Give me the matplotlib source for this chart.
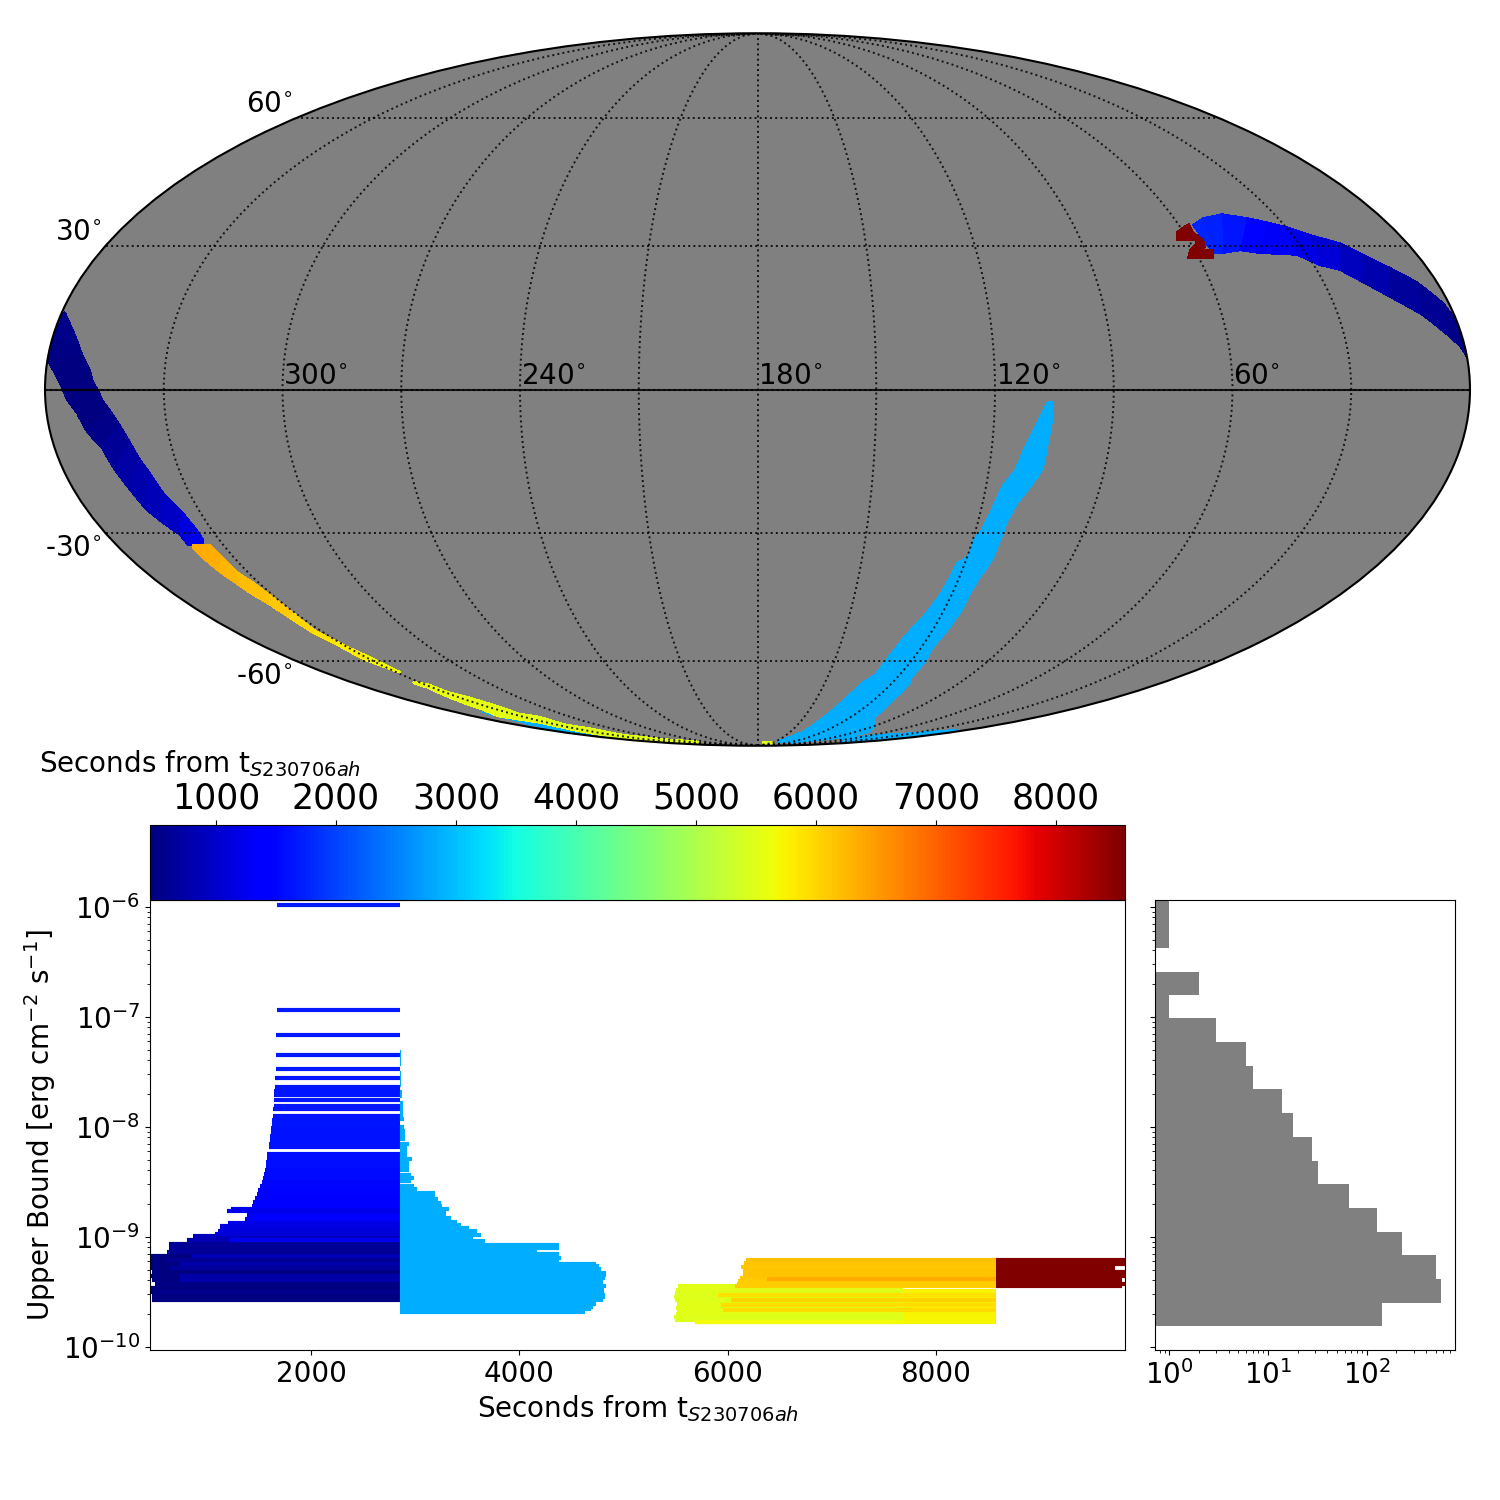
import numpy as np
import matplotlib
matplotlib.use('Agg')
import matplotlib.pyplot as plt
from matplotlib.colors import Normalize
from matplotlib.cm import ScalarMappable

# ---------- sky strips: upper-edge RA/Dec, lower-edge RA/Dec, start time ----------
rarc_ra_u = [56.0, 51.6, 45.2, 38.9, 34.2, 29.1, 25.1, 18.6, 14.8, 10.0, 5.3, 1.5, 0.0, -0.1]
rarc_dec_u = [34.5, 36.0, 36.9, 36.0, 35.1, 33.8, 32.3, 30.5, 28.0, 25.2, 22.2, 17.8, 13.9, 7.1]
rarc_ra_l = [55.8, 54.9, 52.7, 47.5, 42.6, 32.8, 28.3, 23.8, 19.6, 14.5, 8.1, 3.1, 1.2, 0.0]
rarc_dec_l = [30.1, 28.4, 28.4, 29.0, 28.4, 28.0, 25.8, 24.8, 22.2, 19.1, 15.3, 10.8, 8.9, 6.7]
rarc_t = [1800, 1750, 1700, 1550, 1400, 1250, 1130, 986, 850, 711, 620, 540, 490, 450]

larc_ra_u = [359.2, 355.4, 353.2, 351.1, 348.9, 347.9, 346.6, 345.7, 343.9, 341.9, 340.3, 339.1, 337.9, 336.9, 334.7, 334.1, 334.5]
larc_dec_u = [15.9, 12.2, 9.7, 6.7, 4.0, 1.5, -0.1, -2.1, -4.2, -7.3, -10.8, -14.5, -17.2, -21.4, -25.6, -29.2, -31.4]
larc_ra_l = [359.2, 360.2, 360.0, 359.9, 357.1, 355.7, 354.5, 352.3, 350.6, 347.9, 346.6, 345.2, 343.9, 342.0, 339.8, 339.9, 335.7]
larc_dec_l = [15.9, 14.3, 10.1, 6.0, 2.6, 0.3, -2.1, -4.8, -8.7, -12.0, -16.6, -20.7, -25.0, -27.7, -30.3, -32.5, -32.5]
larc_t = [520, 520, 520, 480, 470, 450, 450, 460, 500, 580, 680, 740, 800, 880, 1030, 1250, 1300]

orng_ra_u = [338.5, 333.7, 333.2, 333.1, 331.7, 330.7, 330.6, 331.8, 330.5, 328.5, 328.1]
orng_dec_u = [-32.5, -32.5, -35.4, -38.5, -40.7, -43.7, -47.9, -52.5, -55.0, -58.6, -62.9]
orng_ra_l = [339.2, 338.9, 338.1, 336.5, 336.2, 334.6, 333.9, 333.7, 332.3, 332.2, 329.0]
orng_dec_l = [-33.2, -35.8, -38.5, -42.1, -43.2, -46.0, -49.1, -52.8, -55.8, -59.7, -63.2]
orng_t = [6380, 6380, 6300, 6250, 6200, 6150, 6050, 5950, 5850, 5750, 5650]

yell_ra_u = [332.2, 327.9, 328.2, 325.0, 323.5, 323.0, 324.9, 319.1, 322.3, 316.2, 317.8, 304.9, 277.2]
yell_dec_u = [-65.7, -66.5, -68.6, -70.1, -71.9, -73.2, -75.5, -76.5, -79.4, -81.0, -83.5, -85.3, -86.9]
yell_ra_l = [333.5, 332.3, 334.2, 336.3, 338.4, 344.7, 340.0, 335.5, 337.7, 341.5, 341.3, 327.6, 302.9]
yell_dec_l = [-66.2, -67.4, -69.5, -71.9, -74.2, -76.5, -77.6, -78.7, -81.0, -83.0, -84.9, -86.4, -87.8]
yell_t = [5640, 5620, 5600, 5590, 5570, 5560, 5540, 5520, 5510, 5500, 5500, 5500, 5500]

ytip_ra_u = [170.7, 153.8]
ytip_dec_u = [-86.9, -86.9]
ytip_ra_l = [166.9, 143.0]
ytip_dec_l = [-88.2, -88.2]
ytip_t = [5500, 5500]

lbth_ra_u = [338.4, 331.9, 331.1, 328.7, 332.9]
lbth_dec_u = [-74.2, -76.5, -79.8, -82.6, -84.9]
lbth_ra_l = [342.7, 346.3, 353.8, 349.2, 356.3]
lbth_dec_l = [-74.8, -78.3, -81.8, -83.9, -85.9]
lbth_t = [2850, 2850, 2850, 2850, 2850]

lbar_ra_u = [106.6, 109.1, 111.5, 113.2, 115.8, 117.0, 118.3, 119.6, 119.8, 122.3, 123.0, 123.8, 125.7, 127.3, 128.7, 129.9, 130.4, 133.5, 135.6, 137.4, 138.6, 147.0]
lbar_dec_u = [-2.6, -6.9, -11.8, -16.6, -20.1, -24.3, -29.2, -31.0, -35.1, -36.5, -41.0, -44.4, -48.9, -51.3, -54.5, -59.1, -63.7, -66.0, -71.6, -76.9, -82.2, -86.9]
lbar_ra_l = [105.6, 105.3, 105.8, 106.1, 107.1, 110.8, 112.1, 112.4, 112.5, 113.9, 114.5, 114.3, 115.1, 115.9, 114.8, 114.0, 112.1, 110.3, 104.9, 76.6, 81.1, 110.7]
lbar_dec_l = [-2.6, -6.2, -10.8, -16.1, -18.2, -23.5, -27.5, -31.4, -35.8, -39.6, -42.6, -47.2, -52.8, -56.3, -58.9, -64.3, -66.0, -71.0, -76.9, -82.6, -84.9, -87.5]
lbar_t = [2850] * 22

lbrm_ra_u = [74.3, 54.4, 26.6, 9.9]
lbrm_dec_u = [-85.3, -83.5, -82.6, -81.4]
lbrm_ra_l = [19.0, 10.6, -3.9, -8.4]
lbrm_dec_l = [-87.5, -85.9, -84.4, -82.6]
lbrm_t = [2850, 2850, 2850, 2850]

red_ra = [61.9, 59.7, 56.9, 57.4, 56.0, 56.7, 58.5, 55.0, 56.2, 63.0, 61.3, 59.1, 57.7, 63.3]
red_dec = [32.9, 33.8, 34.7, 32.9, 31.2, 29.7, 29.0, 29.0, 27.3, 27.3, 29.0, 30.1, 31.2, 31.2]
red_t = 8575

# ---------- upper bounds: log10(bound), start and stop of each observation ----------
stop_blue = 2850
blue_log_ub = [-5.985, -6.943, -7.170, -7.351, -7.478, -7.560, -7.642, -7.678, -7.714, -7.760, -7.814, -7.841,
               -7.905, -7.941, -7.977, -8.014, -8.050, -8.086, -8.122, -8.159, -8.186, -8.249, -8.286, -8.322,
               -8.358, -8.394, -8.431, -8.467, -8.503, -8.540, -8.576, -8.612, -8.648, -8.685, -8.721, -8.748,
               -8.766, -8.803, -8.839, -8.875, -8.902, -8.921, -8.948, -8.975, -8.993, -9.029, -9.029, -9.066,
               -9.102, -9.138, -9.175, -9.175, -9.211, -9.211, -9.247, -9.247, -9.283, -9.283, -9.320, -9.356,
               -9.356, -9.392, -9.392, -9.428, -9.465, -9.501, -9.501, -9.537, -9.574]
blue_start = [1673, 1673, 1664, 1664, 1664, 1654, 1654, 1644, 1644, 1644, 1644, 1635,
              1635, 1625, 1625, 1616, 1616, 1606, 1606, 1596, 1596, 1577, 1577, 1568,
              1568, 1558, 1548, 1539, 1529, 1510, 1491, 1481, 1462, 1443, 1433, 1232,
              1193, 1385, 1366, 1203, 1126, 1126, 1107, 1078, 867, 809, 1222, 636,
              636, 617, 454, 857, 454, 608, 454, 742, 452, 646, 473, 454,
              742, 473, 742, 500, 454, 454, 550, 473, 473]

lb_start = 2850
lb_log_ub = [-7.324, -7.361, -7.397, -7.433, -7.515, -7.551, -7.587, -7.624, -7.687, -7.723, -7.787, -7.823,
             -7.859, -7.896, -7.932, -8.004, -8.041, -8.077, -8.113, -8.159, -8.195, -8.231, -8.268, -8.295,
             -8.331, -8.367, -8.394, -8.440, -8.467, -8.494, -8.540, -8.567, -8.603, -8.621, -8.657, -8.694,
             -8.721, -8.748, -8.784, -8.812, -8.830, -8.866, -8.893, -8.921, -8.948, -8.984, -9.011, -9.038,
             -9.075, -9.102, -9.129, -9.156, -9.193, -9.220, -9.247, -9.265, -9.292, -9.329, -9.352, -9.374,
             -9.410, -9.428, -9.447, -9.470, -9.492, -9.510, -9.528, -9.551, -9.574, -9.610, -9.637, -9.655, -9.682]
lb_stop = [2864, 2864, 2864, 2864, 2864, 2864, 2864, 2864, 2873, 2873, 2883, 2883,
           2883, 2883, 2892, 2892, 2902, 2902, 2902, 2940, 2921, 2921, 2921, 2969,
           2940, 2940, 2940, 2959, 2988, 2959, 2988, 3017, 3190, 3190, 3219, 3248,
           3257, 3324, 3296, 3296, 3344, 3401, 3440, 3516, 3593, 3632, 3555, 3670,
           4380, 4380, 4169, 4380, 4400, 4380, 4736, 4764, 4784, 4832, 4832, 4822,
           4803, 4803, 4832, 4812, 4812, 4812, 4822, 4822, 4803, 4736, 4707, 4688, 4630]

late_log_ub = [-9.492, -9.528, -9.564, -9.601, -9.637, -9.673, -9.710, -9.746, -9.773]
late_start = [5720, 5720, 5720, 5720, 5720, 5720, 5720, 5720, 5720]
late_stop = [8575, 8575, 8575, 8575, 8575, 8575, 8575, 8575, 8575]

yel_log_ub = [-9.447, -9.483, -9.510, -9.546, -9.574, -9.610, -9.646, -9.673, -9.701, -9.728, -9.755, -9.773]
yel_start = [5523, 5504, 5494, 5484, 5494, 5513, 5504, 5513, 5504, 5484, 5494, 5686]
yel_stop = [6200, 7680, 7680, 7680, 7680, 7680, 7680, 7680, 7680, 7680, 7680, 7680]

gold_log_ub = [-9.528, -9.574, -9.619, -9.664]
gold_start = [5907, 6032, 5936, 5955]
gold_stop = [8575, 8575, 8575, 8575]

org_log_ub = [-9.211, -9.238, -9.274, -9.311, -9.347, -9.374, -9.401, -9.383, -9.428, -9.447]
org_start = [6176, 6156, 6128, 6147, 6147, 6118, 6099, 6377, 6089, 6070]
org_stop = [8575] * 10

red_log_ub = [-9.211, -9.247, -9.283, -9.320, -9.356, -9.392, -9.428, -9.447]
red_stop = [9900, 9830, 9718, 9900, 9860, 9790, 9830, 9785]

# ---------- histogram of the upper bounds ----------
hist_edges = [-9.809, -9.601, -9.383, -9.165, -8.957, -8.739, -8.521, -8.313, -8.095, -7.877,
              -7.660, -7.451, -7.234, -7.016, -6.807, -6.590, -6.372, -6.154, -5.937]
hist_counts = [143, 565, 504, 228, 127, 66, 32, 28, 18, 14, 7, 6, 3, 1, 2, 0, 1, 1]

# ---------- labels ----------
ra_labels = [300, 240, 180, 120, 60]
cbar_ticks = [1000, 2000, 3000, 4000, 5000, 6000, 7000, 8000]
time_ticks = [2000, 4000, 6000, 8000]
bound_ticks = [1e-10, 1e-9, 1e-8, 1e-7, 1e-6]
count_ticks = [1, 10, 100]
t_min, t_max = 450, 8575

cmap = plt.get_cmap('jet')
norm = Normalize(t_min, t_max)
W, H = 1500.0, 1500.0


def box(x0, y0, x1, y1):
    return [x0 / W, 1 - y1 / H, (x1 - x0) / W, (y1 - y0) / H]


def lon(ra):
    return np.radians(180.0 - np.asarray(ra, float))


def strip(ax, ra_u, dec_u, ra_l, dec_l, t, z=2):
    for i in range(len(t) - 1):
        xs = lon([ra_u[i], ra_u[i + 1], ra_l[i + 1], ra_l[i]])
        ys = np.radians([dec_u[i], dec_u[i + 1], dec_l[i + 1], dec_l[i]])
        c = cmap(norm(0.5 * (t[i] + t[i + 1])))
        ax.fill(xs, ys, facecolor=c, edgecolor=c, linewidth=0.6, zorder=z, antialiased=False)


fig = plt.figure(figsize=(15, 15), dpi=100)

# ---------- sky map ----------
sky = fig.add_axes(box(45, 33, 1470, 746), projection='mollweide')
sky.set_facecolor('#808080')
strip(sky, rarc_ra_u, rarc_dec_u, rarc_ra_l, rarc_dec_l, rarc_t)
strip(sky, larc_ra_u, larc_dec_u, larc_ra_l, larc_dec_l, larc_t)
strip(sky, lbth_ra_u, lbth_dec_u, lbth_ra_l, lbth_dec_l, lbth_t)
strip(sky, lbar_ra_u, lbar_dec_u, lbar_ra_l, lbar_dec_l, lbar_t)
strip(sky, lbrm_ra_u, lbrm_dec_u, lbrm_ra_l, lbrm_dec_l, lbrm_t)
strip(sky, orng_ra_u, orng_dec_u, orng_ra_l, orng_dec_l, orng_t)
strip(sky, yell_ra_u, yell_dec_u, yell_ra_l, yell_dec_l, yell_t)
strip(sky, ytip_ra_u, ytip_dec_u, ytip_ra_l, ytip_dec_l, ytip_t)
sky.fill(lon(red_ra), np.radians(red_dec), facecolor=cmap(norm(red_t)),
         edgecolor=cmap(norm(red_t)), linewidth=0.6, zorder=3, antialiased=False)

sky.set_longitude_grid(30)
sky.set_longitude_grid_ends(90)
sky.set_latitude_grid(30)
sky.set_xticklabels([])
sky.set_yticklabels([])
sky.set_axisbelow(False)
sky.grid(True, color='black', linestyle=':', linewidth=1.4, alpha=0.85)
sky.plot(np.radians([-179.9, 179.9]), [0, 0], color='black', lw=1.5, alpha=0.85, zorder=4)
for sp in sky.spines.values():
    sp.set_linewidth(1.5)
for ra in ra_labels:
    sky.annotate(f'{ra}$^{{\\circ}}$', (lon(ra), 0), xytext=(0.7, -0.6), textcoords='offset points',
                 ha='left', va='bottom', fontsize=20, color='black', zorder=5, annotation_clip=False)
for d, xr, yc in [(60, 293, 104), (30, 102, 232), (-30, 102, 548), (-60, 293, 676)]:
    fig.text(xr / W, 1 - yc / H, f'{d}$^{{\\circ}}$', ha='right', va='center', fontsize=20)

# ---------- upper bound vs time ----------
ax = fig.add_axes(box(150, 900, 1125, 1350))
ax.set_yscale('log')


def rows(log_ub, start, stop, z):
    start = np.asarray(start, float)
    ax.hlines(10.0 ** np.asarray(log_ub, float), start, stop, colors=cmap(norm(start)),
              linewidth=3, capstyle='butt', zorder=z)


order = np.argsort(blue_start, kind='stable')
for i in order:
    rows([blue_log_ub[i]], [blue_start[i]], stop_blue, 2)
rows(lb_log_ub, [lb_start] * len(lb_log_ub), lb_stop, 2.1)
rows(late_log_ub, late_start, late_stop, 2.2)
rows(yel_log_ub, yel_start, yel_stop, 2.3)
rows(gold_log_ub, gold_start, gold_stop, 2.4)
for i in np.argsort(org_start, kind='stable'):
    rows([org_log_ub[i]], [org_start[i]], org_stop[i], 2.5)
rows(red_log_ub, [t_max] * len(red_log_ub), red_stop, 2.6)

ax.set_xlim(454, 9815)
ax.set_ylim(10 ** -10.03, 10 ** -5.939)
ax.set_xticks(time_ticks)
ax.set_yticks(bound_ticks)
ax.tick_params(axis='both', which='major', labelsize=20)
ax.set_xlabel('Seconds from t$_{S230706ah}$', fontsize=20)
ax.set_ylabel('Upper Bound [erg cm$^{-2}$ s$^{-1}$]', fontsize=20)

# ---------- colour bar ----------
cax = fig.add_axes(box(150, 825, 1125, 900))
cb = fig.colorbar(ScalarMappable(norm=norm, cmap=cmap), cax=cax, orientation='horizontal')
cb.set_ticks(cbar_ticks)
cax.xaxis.set_ticks_position('top')
cax.tick_params(axis='x', labelsize=25)
fig.text(39 / W, 1 - 764 / H, 'Seconds from t$_{S230706ah}$', ha='left', va='center', fontsize=20)

# ---------- histogram ----------
hx = fig.add_axes(box(1155, 900, 1455, 1350))
hx.set_xscale('log')
hx.set_yscale('log')
edges = 10.0 ** np.asarray(hist_edges)
for k, n in enumerate(hist_counts):
    if n > 0:
        hx.barh(edges[k], n - 0.1, height=edges[k + 1] - edges[k], left=0.1, align='edge',
                color='gray', linewidth=0)
hx.set_xlim(0.72, 785)
hx.set_ylim(10 ** -10.03, 10 ** -5.939)
hx.set_xticks(count_ticks)
hx.set_yticks(bound_ticks)
hx.tick_params(axis='x', which='major', labelsize=20)
hx.tick_params(axis='y', which='both', labelleft=False)

fig.savefig('out.png', dpi=100)
